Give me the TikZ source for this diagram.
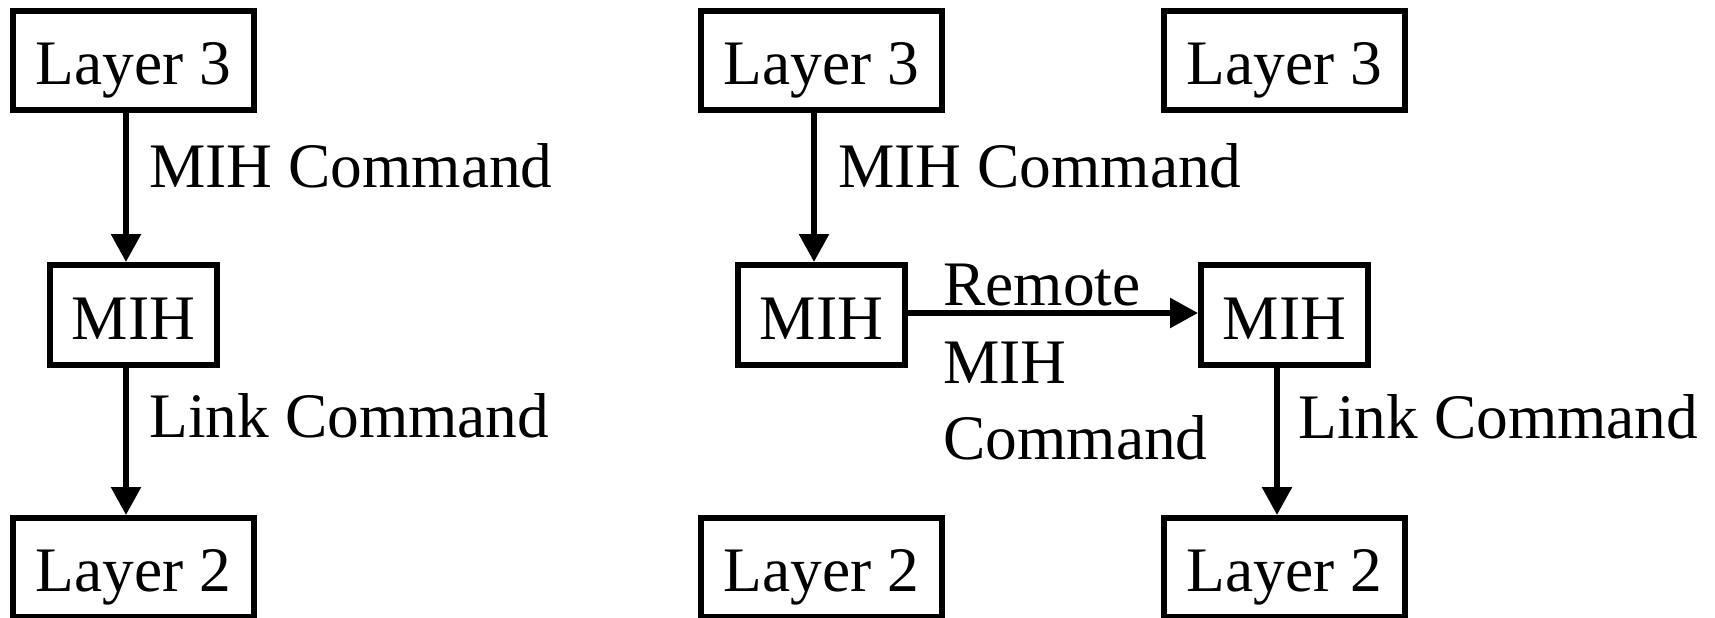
\documentclass[tikz,border=0pt]{standalone}
\usepackage{fontspec}
\setmainfont{Liberation Serif}
\usetikzlibrary{arrows.meta}
\begin{document}
\begin{tikzpicture}[x=0.5pt,y=-0.5pt,
  font=\fontsize{31.7}{38.5}\selectfont,
  box/.style={draw, line width=2.8pt, inner sep=0pt, text height=30.5pt, text depth=6.5pt},
  layerbox/.style={box, minimum width=120.7pt, minimum height=49.7pt},
  mihbox/.style={box, minimum width=83.7pt, minimum height=50.2pt},
  arr/.style={line width=2.8pt, -{Triangle[length=14pt,width=14.5pt]}},
  lbl/.style={inner sep=0pt, anchor=base west}]
\useasboundingbox (0,0) rectangle (1715,617);
% column 1
\node[layerbox] (l3a) at (133.5,60.5) {Layer 3};
\node[mihbox]   (ma)  at (133.5,315) {MIH};
\node[layerbox] (l2a) at (133.5,567.5) {Layer 2};
% column 2
\node[layerbox] (l3b) at (821.5,60.5) {Layer 3};
\node[mihbox]   (mb)  at (821.5,315) {MIH};
\node[layerbox] (l2b) at (821.5,567.5) {Layer 2};
% column 3
\node[layerbox] (l3c) at (1284.5,60.5) {Layer 3};
\node[mihbox]   (mc)  at (1284.5,315) {MIH};
\node[layerbox] (l2c) at (1284.5,567.5) {Layer 2};
% connectors
\draw[arr] ([xshift=-3.75pt]l3a.south) -- ([xshift=-3.75pt]ma.north);
\draw[arr] ([xshift=-3.75pt]ma.south) -- ([xshift=-3.75pt]l2a.north);
\draw[arr] ([xshift=-3.75pt]l3b.south) -- ([xshift=-3.75pt]mb.north);
\draw[arr] ([yshift=1pt]mb.east) -- ([yshift=1pt]mc.west);
\draw[arr] ([xshift=-3.75pt]mc.south) -- ([xshift=-3.75pt]l2c.north);
% labels
\node[lbl] (t1) at (149,187) {MIH Command};
\node[lbl] (t2) at (149,437) {Link Command};
\node[lbl] (t3) at (838,187) {MIH Command};
\node[lbl] (t4) at (943,305) {Remote};
\node[lbl] (t5) at (943,383) {MIH};
\node[lbl] (t6) at (943,459) {Command};
\node[lbl] (t7) at (1298,438) {Link Command};
\end{tikzpicture}
\end{document}
